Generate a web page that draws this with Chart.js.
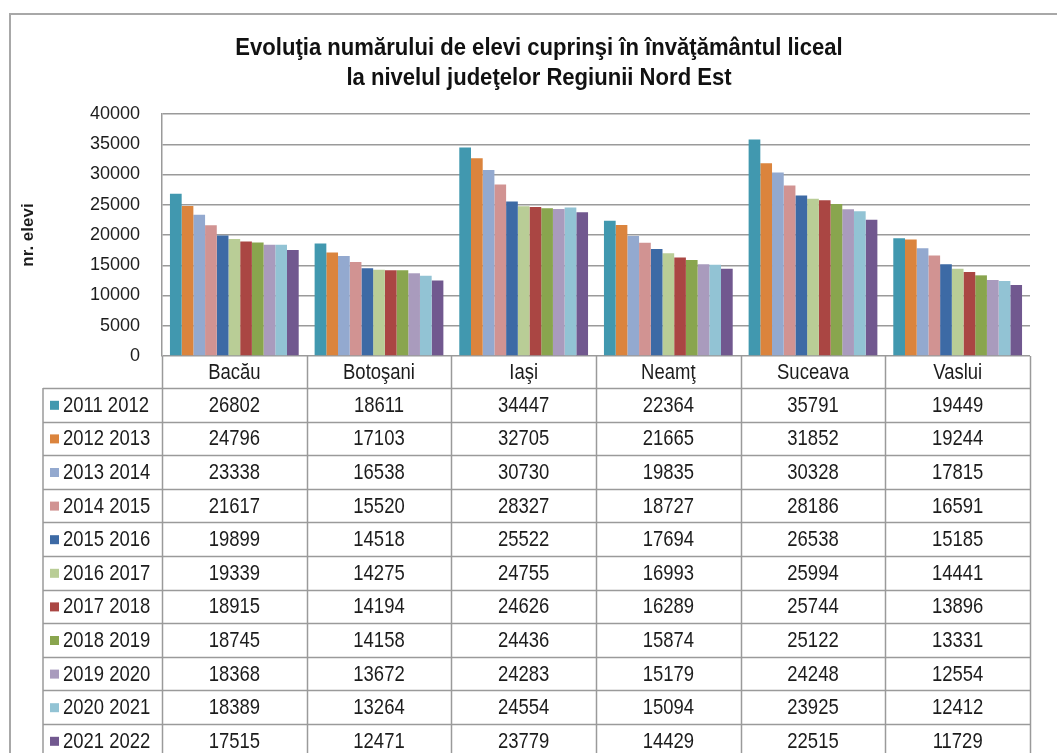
<!DOCTYPE html>
<html>
<head>
<meta charset="utf-8">
<script src="https://cdn.jsdelivr.net/npm/chart.js@4"></script>
<style>
  body { margin: 0; background: #fff; }
  #wrap { width: 1057px; height: 753px; position: relative; }
</style>
</head>
<body>
<div id="wrap"><canvas id="elevChart"></canvas></div>
<script>
// judete (categories)
const categories = ["Bacău", "Botoşani", "Iaşi", "Neamţ", "Suceava", "Vaslui"];

// ani scolari (series names)
const seasons = ["2011 2012", "2012 2013", "2013 2014", "2014 2015", "2015 2016", "2016 2017",
  "2017 2018", "2018 2019", "2019 2020", "2020 2021", "2021 2022"];

// nr. elevi per an scolar, in order of categories
const y2011_2012 = [26802, 18611, 34447, 22364, 35791, 19449];
const y2012_2013 = [24796, 17103, 32705, 21665, 31852, 19244];
const y2013_2014 = [23338, 16538, 30730, 19835, 30328, 17815];
const y2014_2015 = [21617, 15520, 28327, 18727, 28186, 16591];
const y2015_2016 = [19899, 14518, 25522, 17694, 26538, 15185];
const y2016_2017 = [19339, 14275, 24755, 16993, 25994, 14441];
const y2017_2018 = [18915, 14194, 24626, 16289, 25744, 13896];
const y2018_2019 = [18745, 14158, 24436, 15874, 25122, 13331];
const y2019_2020 = [18368, 13672, 24283, 15179, 24248, 12554];
const y2020_2021 = [18389, 13264, 24554, 15094, 23925, 12412];
const y2021_2022 = [17515, 12471, 23779, 14429, 22515, 11729];

const seriesValues = [y2011_2012, y2012_2013, y2013_2014, y2014_2015, y2015_2016, y2016_2017,
  y2017_2018, y2018_2019, y2019_2020, y2020_2021, y2021_2022];

// y axis ticks
const yMin = 0;
const yMax = 40000;
const yStep = 5000;

const colors = ["#4198AF", "#DB843D", "#93A9CF", "#D19392", "#3D6AA5", "#B9CD96",
  "#AA4643", "#89A54E", "#A99BBD", "#92C3D4", "#71588F"];

const FONT = '"Liberation Sans", Arial, sans-serif';
const TEXT = "#1c1c1c";
const LINE = "#9a9a9a";

// excel uses a narrow font, squeeze the text a bit
function narrowText(ctx, text, x, y, sx) {
  ctx.save();
  ctx.translate(x, y);
  ctx.scale(sx, 1);
  ctx.fillText(text, 0, 0);
  ctx.restore();
}

// title, frame and data table under the plot
const tablePlugin = {
  id: "dataTable",
  afterDraw(chart) {
    const ctx = chart.ctx;
    const area = chart.chartArea;
    const xScale = chart.scales.x;
    const colW = (area.right - area.left) / categories.length;
    const headTop = area.bottom;
    const headBottom = headTop + 32;
    const rowH = 33.6;
    const tableLeft = 43;
    const tableBottom = chart.height;

    ctx.save();

    // spreadsheet frame
    ctx.strokeStyle = "#a8a8a8";
    ctx.lineWidth = 2;
    ctx.beginPath();
    ctx.moveTo(10, chart.height);
    ctx.lineTo(10, 14);
    ctx.lineTo(chart.width, 14);
    ctx.stroke();

    // title
    ctx.fillStyle = "#111";
    ctx.font = "bold 24px " + FONT;
    ctx.textAlign = "center";
    ctx.textBaseline = "middle";
    narrowText(ctx, "Evoluţia numărului de elevi cuprinşi în învăţământul liceal", 539, 48, 0.92);
    narrowText(ctx, "la nivelul judeţelor Regiunii Nord Est", 539, 78, 0.92);

    // grid of the table
    ctx.strokeStyle = LINE;
    ctx.lineWidth = 1.5;
    ctx.beginPath();
    for (let i = 0; i <= categories.length; i++) {
      const bx = Math.round(area.left + colW * i) + 0.5;
      ctx.moveTo(bx, headTop);
      ctx.lineTo(bx, tableBottom);
    }
    ctx.moveTo(tableLeft, headBottom);
    ctx.lineTo(tableLeft, tableBottom);
    for (let r = 0; r <= seasons.length; r++) {
      const ry = Math.round(headBottom + rowH * r) + 0.5;
      ctx.moveTo(tableLeft, ry);
      ctx.lineTo(area.right, ry);
    }
    ctx.stroke();

    // category header
    ctx.fillStyle = TEXT;
    ctx.font = "22px " + FONT;
    categories.forEach((c, i) => {
      narrowText(ctx, c, xScale.getPixelForValue(i), (headTop + headBottom) / 2 + 1, 0.84);
    });

    // rows
    seasons.forEach((s, r) => {
      const cy = headBottom + rowH * r + rowH / 2 + 1;
      ctx.fillStyle = colors[r];
      ctx.fillRect(50, cy - 5, 9, 9);
      ctx.fillStyle = TEXT;
      ctx.textAlign = "left";
      narrowText(ctx, s, 63, cy, 0.84);
      ctx.textAlign = "center";
      seriesValues[r].forEach((v, i) => {
        narrowText(ctx, String(v), xScale.getPixelForValue(i), cy, 0.84);
      });
    });

    ctx.restore();
  }
};

function renderChart() {
  const ctx = document.getElementById("elevChart").getContext("2d");
  new Chart(ctx, {
    type: "bar",
    data: {
      labels: categories,
      datasets: seasons.map((s, i) => ({
        label: s,
        data: seriesValues[i],
        backgroundColor: colors[i],
        borderWidth: 0,
        barPercentage: 1,
        categoryPercentage: 0.89,
      })),
    },
    options: {
      responsive: true,
      maintainAspectRatio: false,
      animation: false,
      layout: {
        padding: { left: 0, right: 27, top: 114, bottom: 397 },
      },
      plugins: {
        legend: { display: false },
        tooltip: { enabled: false },
        title: { display: false },
      },
      scales: {
        x: {
          display: false,
        },
        y: {
          min: yMin,
          max: yMax,
          afterFit: (scale) => { scale.width = 162; },
          ticks: {
            stepSize: yStep,
            padding: 22,
            color: TEXT,
            font: { family: FONT, size: 18 },
            callback: (value) => String(value),
          },
          grid: {
            color: LINE,
            lineWidth: 1.5,
            drawTicks: false,
          },
          border: { color: LINE, width: 1.5 },
          title: {
            display: true,
            text: "nr. elevi",
            color: TEXT,
            font: { family: FONT, size: 17, weight: "bold" },
            padding: { top: 18, bottom: 0 },
          },
        },
      },
    },
    plugins: [tablePlugin],
  });
}

window.onload = renderChart;
</script>
</body>
</html>
